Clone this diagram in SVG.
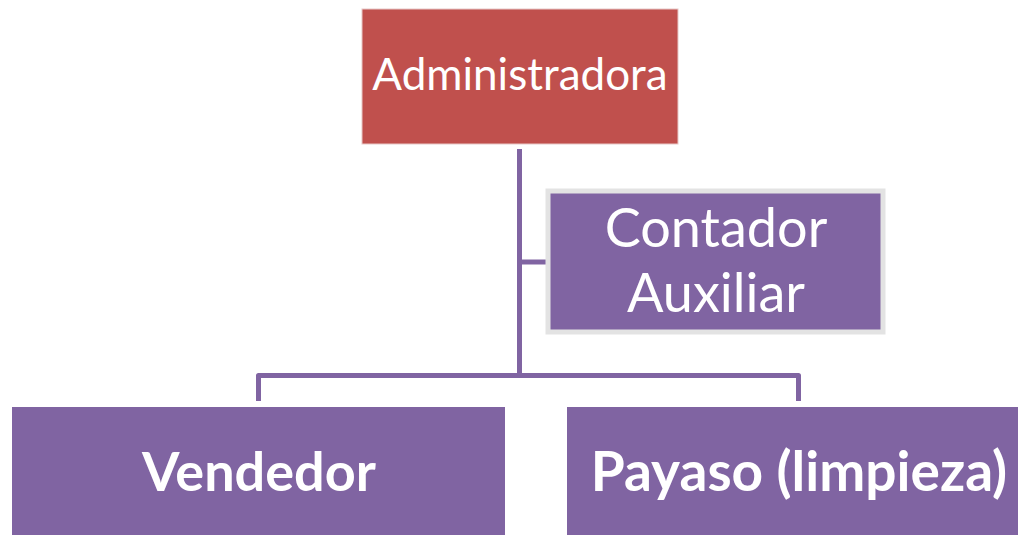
<svg xmlns="http://www.w3.org/2000/svg" width="1018" height="535" viewBox="0 0 1018 535">
<style>
.conn{fill:none;stroke:#8064A2;stroke-width:5;stroke-linejoin:round}
.purple{fill:#8064A2}
.t{fill:#fff;font-family:Lato,"Open Sans",sans-serif;text-anchor:middle}
.b{font-weight:bold}
</style>
<rect width="1018" height="535" fill="#fff"/>
<g id="connectors">
<path class="conn" d="M519.5 149 V375"/>
<path class="conn" d="M519.5 262 H548"/>
<path class="conn" d="M258.5 401 V375.5 H798.5 V401"/>
</g>
<g id="administradora">
<rect x="362" y="9" width="316" height="135" fill="#C0504D" stroke="#e8c8c7" stroke-width="1"/>
<text class="t" x="520" y="90" font-size="44">Administradora</text>
</g>
<g id="contador">
<rect x="548" y="191" width="335" height="141" fill="#8064A2" stroke="#e3e3e3" stroke-width="5"/>
<text class="t" x="716" y="247" font-size="54">Contador</text>
<text class="t" x="716" y="312" font-size="54">Auxiliar</text>
</g>
<g id="vendedor">
<rect class="purple" x="12" y="407" width="493" height="140"/>
<text class="t b" x="259" y="491" font-size="54">Vendedor</text>
</g>
<g id="payaso">
<rect class="purple" x="567" y="407" width="460" height="140"/>
<text class="t b" x="799" y="491" font-size="55">Payaso (limpieza)</text>
</g>
</svg>
